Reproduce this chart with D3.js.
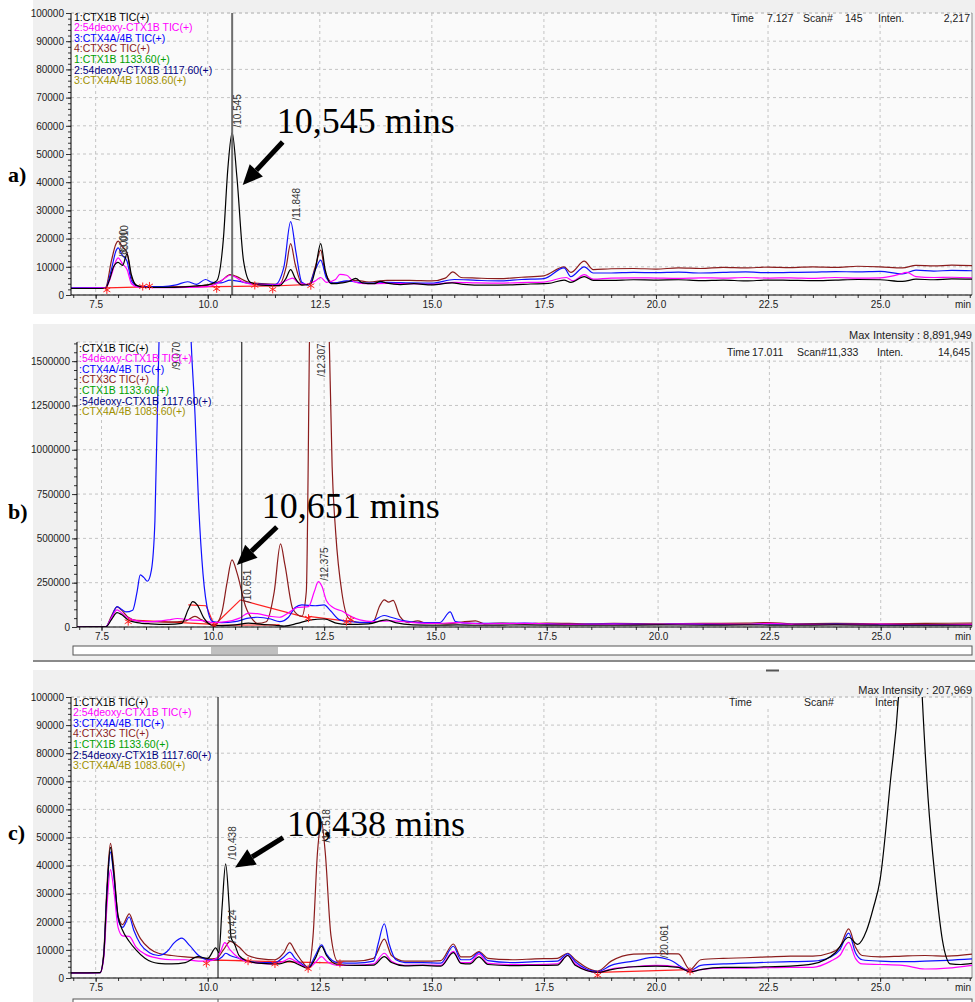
<!DOCTYPE html>
<html>
<head>
<meta charset="utf-8">
<script src="https://cdn.jsdelivr.net/npm/d3@7"></script>
<style>
  body { margin: 0; background: #fff; }
  svg { display: block; font-family: "Liberation Sans", Arial, sans-serif; }
</style>
</head>
<body>
<script>
// ---- data ----
const xTicks = [7.5, 10.0, 12.5, 15.0, 17.5, 20.0, 22.5, 25.0];
const acYTicks = [0, 10000, 20000, 30000, 40000, 50000, 60000, 70000, 80000, 90000, 100000];
const bYTicks = [0, 250000, 500000, 750000, 1000000, 1250000, 1500000];

const legendNames = ["1:CTX1B TIC(+)", "2:54deoxy-CTX1B TIC(+)", "3:CTX4A/4B TIC(+)", "4:CTX3C TIC(+)",
  "1:CTX1B 1133.60(+)", "2:54deoxy-CTX1B 1117.60(+)", "3:CTX4A/4B 1083.60(+)"];
const legendColors = ["#000000", "#ff00ff", "#0000ff", "#8b1c1c", "#00a000", "#000080", "#a09000"];

// panel a
const aBlack = [[6.95,2300],[7.5,2300],[7.72,2400],[7.8,5000],[7.9,10000],[8.0,11600],[8.1,10500],[8.2,14500],[8.3,7000],[8.4,3500],[8.6,2700],[9.0,2700],[9.5,2900],[9.8,3300],[10.0,3600],[10.2,5000],[10.35,20000],[10.45,45000],[10.545,57600],[10.65,42000],[10.8,12000],[10.95,4500],[11.2,3500],[11.6,3300],[11.75,6000],[11.85,9000],[11.95,6000],[12.1,3500],[12.3,4000],[12.4,9000],[12.52,18200],[12.62,9000],[12.75,4000],[13.0,4300],[13.15,4800],[13.3,5900],[13.45,4300],[13.7,4000],[13.85,4800],[14.0,4200],[14.3,3700],[14.6,4000],[15.0,3600],[15.45,4300],[15.7,3800],[16.2,3500],[16.8,3600],[17.2,3900],[17.6,4100],[17.95,5300],[18.1,4500],[18.4,6500],[18.6,5200],[19.0,5200],[19.5,5400],[20.0,5300],[20.5,5400],[21.0,5100],[21.5,5300],[22.0,5000],[22.5,5300],[23.0,5200],[23.5,5100],[24.0,5300],[24.5,5500],[25.0,5400],[25.5,4800],[25.8,5600],[26.2,5400],[26.6,5700],[27.05,5600]];
const aMagenta = [[6.95,2400],[7.72,2500],[7.85,7000],[7.95,12000],[8.0,13200],[8.1,11000],[8.2,9000],[8.3,4000],[8.45,2800],[9.0,2600],[9.5,2700],[10.0,3000],[10.2,4000],[10.4,6200],[10.5,7000],[10.6,6500],[10.8,4500],[11.0,3800],[11.5,3500],[11.8,5500],[11.9,6000],[12.0,4500],[12.2,3800],[12.4,5000],[12.52,6200],[12.65,4500],[12.85,5500],[12.95,7300],[13.1,7000],[13.25,4800],[13.5,4000],[14.0,4100],[14.5,4000],[15.0,3800],[15.5,4500],[16.0,4300],[16.5,4200],[17.0,4400],[17.5,4600],[18.0,6200],[18.15,5000],[18.4,7200],[18.6,5600],[19.0,6000],[19.5,6100],[20.0,6000],[20.5,5900],[21.0,6100],[21.5,6000],[22.0,6200],[22.5,6000],[23.0,6100],[23.5,5900],[24.0,6200],[24.5,6000],[25.0,6100],[25.4,7200],[25.6,8000],[25.8,6500],[26.2,6200],[26.6,6300],[27.05,6100]];
const aBlue = [[6.95,2500],[7.72,2600],[7.85,9000],[7.95,15500],[8.0,16700],[8.1,14000],[8.2,12000],[8.3,5000],[8.45,3000],[9.0,3000],[9.3,3600],[9.55,4700],[9.75,3800],[9.95,5500],[10.1,4500],[10.3,4300],[10.5,5300],[10.7,4800],[11.0,4000],[11.5,3700],[11.7,10000],[11.85,26000],[11.97,15000],[12.1,4500],[12.25,3500],[12.4,9000],[12.52,12400],[12.65,6000],[12.8,4200],[13.1,5000],[13.3,4600],[13.6,4200],[14.0,4500],[14.5,4300],[15.0,4200],[15.5,5500],[16.0,5200],[16.5,5000],[17.0,5500],[17.5,5800],[17.95,9600],[18.1,6500],[18.4,10000],[18.6,7800],[19.0,7800],[19.5,8000],[20.0,7900],[20.5,8100],[21.0,7800],[21.5,8000],[22.0,8200],[22.5,7900],[23.0,8000],[23.5,8100],[24.0,8300],[24.5,8200],[25.0,8400],[25.5,7500],[25.8,8800],[26.2,8500],[26.6,8700],[27.05,8600]];
const aBrown = [[6.95,2400],[7.72,2600],[7.85,12000],[7.95,18000],[8.0,19100],[8.1,17000],[8.2,15000],[8.3,6000],[8.45,3200],[9.0,2900],[9.5,3000],[10.0,3500],[10.3,5000],[10.5,7200],[10.65,6500],[10.9,4600],[11.2,4000],[11.6,3800],[11.75,10000],[11.85,18200],[11.95,11000],[12.1,4000],[12.25,3600],[12.4,10000],[12.52,15900],[12.62,8000],[12.8,4300],[13.0,4600],[13.3,5200],[13.6,4600],[14.0,5200],[14.5,5200],[15.0,5000],[15.3,6000],[15.47,8200],[15.65,6200],[16.0,6000],[16.5,5800],[17.0,6300],[17.5,6800],[17.95,10000],[18.1,8000],[18.4,12000],[18.6,9000],[19.0,9300],[19.5,9400],[20.0,9200],[20.5,9600],[21.0,9400],[21.5,9800],[22.0,9600],[22.5,9900],[23.0,9700],[23.5,10000],[24.0,9800],[24.5,10200],[25.0,10000],[25.5,9600],[25.8,10500],[26.2,10300],[26.6,10600],[27.05,10400]];
const aRed = [[6.95,2400,7.75,2400],[7.75,2500,8.6,2900],[8.6,2900,10.2,3000],[10.2,3000,11.45,3200],[11.45,3200,12.3,3800]];
const aStars = [[7.75,1800],[8.55,3000],[8.7,3200],[10.2,2200],[11.05,3400],[11.45,2000],[12.3,3300]];
const aPeaks = [[8.0,12600,"8.000"],[8.01,14200,"8.010"],[10.545,58700,"10.545"],[11.848,25700,"11.848"]];

// panel b
const bBlue = [[6.95,0],[7.6,2000],[7.7,40000],[7.85,115000],[7.95,100000],[8.05,85000],[8.2,95000],[8.3,200000],[8.37,294000],[8.45,280000],[8.53,258000],[8.62,320000],[8.7,600000],[8.8,1700000],[9.1,8891949],[9.5,1700000],[9.6,1200000],[9.68,700000],[9.78,300000],[9.9,80000],[10.0,30000],[10.2,25000],[10.5,30000],[10.8,50000],[11.0,55000],[11.3,45000],[11.5,30000],[11.7,55000],[11.85,110000],[12.0,125000],[12.3,120000],[12.5,125000],[12.65,90000],[12.85,40000],[13.1,30000],[13.5,25000],[13.85,65000],[14.0,55000],[14.3,35000],[14.7,25000],[15.1,25000],[15.33,85000],[15.45,30000],[15.8,20000],[16.5,20000],[17.0,22000],[17.5,18000],[18.0,15000],[19.0,18000],[20.0,15000],[20.5,17000],[21.0,15000],[22.0,14000],[22.5,18000],[23.0,15000],[24.0,16000],[25.0,13000],[26.0,12000],[27.05,13000]];
const bBlack = [[6.95,0],[7.6,1000],[7.72,40000],[7.85,81000],[7.95,70000],[8.1,40000],[8.3,25000],[8.6,18000],[9.0,15000],[9.3,20000],[9.45,100000],[9.55,143000],[9.65,125000],[9.8,50000],[10.0,10000],[10.2,8000],[10.5,12000],[10.8,22000],[11.1,15000],[11.4,10000],[11.6,5000],[11.9,20000],[12.2,40000],[12.5,45000],[12.8,20000],[13.0,15000],[13.5,18000],[13.9,40000],[14.1,25000],[14.5,12000],[15.0,10000],[15.5,12000],[16.0,10000],[17.0,12000],[18.0,10000],[19.0,10000],[20.0,12000],[21.0,10000],[22.0,12000],[23.0,10000],[24.0,12000],[25.0,10000],[26.0,11000],[27.05,10000]];
const bMagenta = [[6.95,0],[7.6,2000],[7.72,50000],[7.85,97000],[7.95,80000],[8.1,50000],[8.3,35000],[8.6,30000],[9.0,40000],[9.2,48000],[9.5,40000],[9.8,35000],[10.0,25000],[10.3,30000],[10.6,50000],[10.8,78000],[11.0,75000],[11.3,60000],[11.5,55000],[11.7,80000],[11.9,110000],[12.15,115000],[12.28,200000],[12.37,256000],[12.45,230000],[12.55,150000],[12.7,110000],[12.9,90000],[13.1,60000],[13.3,40000],[13.6,30000],[14.0,35000],[14.5,25000],[15.0,20000],[15.5,25000],[16.0,18000],[17.0,20000],[18.0,15000],[19.0,16000],[20.0,15000],[21.0,17000],[22.0,15000],[22.5,20000],[23.0,15000],[24.0,14000],[25.0,16000],[26.0,14000],[27.05,15000]];
const bBrown = [[6.95,0],[7.6,2000],[7.72,60000],[7.85,113000],[7.95,95000],[8.1,55000],[8.3,35000],[8.6,30000],[9.0,28000],[9.4,35000],[9.6,60000],[9.75,40000],[10.03,8000],[10.2,80000],[10.32,250000],[10.43,379000],[10.55,300000],[10.73,120000],[10.9,40000],[11.0,20000],[11.2,30000],[11.38,200000],[11.52,469000],[11.62,350000],[11.8,100000],[12.0,60000],[12.1,200000],[12.18,1800000],[12.307,3200000],[12.6,1800000],[12.68,906000],[12.76,531000],[12.9,192000],[13.05,50000],[13.3,25000],[13.6,30000],[13.75,120000],[13.85,153000],[13.95,140000],[14.05,150000],[14.2,60000],[14.4,25000],[14.6,35000],[14.8,20000],[15.2,18000],[15.9,35000],[16.1,18000],[16.5,22000],[17.0,18000],[17.5,22000],[18.0,20000],[18.5,18000],[19.0,20000],[20.0,18000],[21.0,20000],[22.0,22000],[22.5,25000],[23.0,18000],[24.0,20000],[25.0,18000],[26.0,20000],[27.05,22000]];
const bRed = [[8.1,40000,10.03,15000],[9.45,125000,9.85,120000],[9.85,120000,10.03,10000],[10.03,10000,10.62,153000],[10.62,153000,12.15,50000],[12.15,60000,13.1,30000],[10.03,10000,11.5,12000]];
const bStars = [[8.1,30000],[10.03,5000],[12.15,50000],[13.0,30000],[13.1,40000]];
const bPeaks = [[9.07,1440000,"9.070"],[12.307,1400000,"12.307"],[10.651,124000,"10.651"],[12.375,249000,"12.375"]];

// panel c
const cBlack = [[6.95,1800],[7.6,1900],[7.68,8000],[7.75,30000],[7.83,46500],[7.9,38000],[8.0,22000],[8.1,17000],[8.25,13000],[8.4,10000],[8.6,7000],[8.9,5200],[9.2,5000],[9.5,5500],[9.78,7600],[10.0,7000],[10.18,10700],[10.25,9000],[10.32,25000],[10.4,40600],[10.48,25000],[10.52,14500],[10.6,12000],[10.7,8000],[10.9,6000],[11.2,5200],[11.6,5000],[11.83,6000],[12.0,5000],[12.24,3500],[12.4,7000],[12.54,11300],[12.65,8000],[12.9,4800],[13.3,4500],[13.7,4600],[13.94,7600],[14.1,5500],[14.4,4300],[14.8,4500],[15.2,4200],[15.48,9000],[15.65,5200],[15.85,5000],[16.05,7500],[16.25,4800],[16.8,4400],[17.3,4500],[17.8,4600],[18.03,8000],[18.2,4500],[18.7,2000],[19.0,3000],[19.5,4000],[20.0,4200],[20.5,3800],[20.76,2200],[21.0,3000],[21.5,3800],[22.0,3800],[22.5,4000],[23.0,4200],[23.5,5000],[24.0,9000],[24.3,14500],[24.5,12000],[24.7,17000],[24.85,25000],[25.0,35000],[25.23,70000],[25.41,100000],[25.68,207969],[25.94,100000],[26.07,64000],[26.23,35000],[26.39,13500],[26.57,5000],[26.8,4800],[27.05,5200]];
const cBrown = [[6.95,1800],[7.6,1900],[7.68,9000],[7.75,32000],[7.83,47900],[7.9,40000],[8.0,22000],[8.1,19000],[8.25,22800],[8.35,19000],[8.5,14000],[8.7,10500],[8.9,8800],[9.2,8000],[9.5,7500],[9.8,7200],[10.0,6800],[10.2,7000],[10.35,10000],[10.5,13000],[10.7,11000],[10.9,8000],[11.2,6800],[11.5,6500],[11.7,9000],[11.83,12500],[11.95,9500],[12.1,6000],[12.24,3800],[12.35,15000],[12.45,45000],[12.54,55500],[12.62,45000],[12.75,15000],[12.9,6000],[13.3,6000],[13.7,7000],[13.94,13800],[14.1,8000],[14.4,6000],[14.8,6000],[15.2,6200],[15.48,12100],[15.65,7500],[15.85,7500],[16.05,9400],[16.25,7000],[16.8,6500],[17.3,6800],[17.8,7000],[18.03,8800],[18.2,6500],[18.7,2500],[19.0,6000],[19.5,8500],[20.0,8700],[20.5,8600],[20.76,3000],[21.0,6500],[21.5,7000],[22.0,7200],[22.5,7500],[23.0,7800],[23.5,7800],[23.9,9000],[24.1,11000],[24.3,17500],[24.45,11000],[24.6,8000],[25.0,7500],[25.5,7800],[26.0,8000],[26.5,7800],[27.05,8500]];
const cBlue = [[6.95,1800],[7.6,1900],[7.68,8000],[7.75,30000],[7.83,44900],[7.9,37000],[8.0,21000],[8.1,18000],[8.25,21700],[8.35,17000],[8.5,12000],[8.7,9000],[8.9,8000],[9.1,9500],[9.25,12500],[9.42,14200],[9.6,11500],[9.8,8000],[10.0,6500],[10.2,6500],[10.32,7500],[10.4,8800],[10.5,8000],[10.7,7000],[10.9,6000],[11.2,5500],[11.5,5500],[11.7,7500],[11.83,9200],[11.95,7000],[12.1,5000],[12.24,3600],[12.4,8000],[12.54,11800],[12.65,8500],[12.9,5500],[13.3,5300],[13.7,6000],[13.8,12000],[13.94,19300],[14.05,12000],[14.2,6500],[14.4,5500],[14.8,5500],[15.2,5300],[15.48,11300],[15.65,6500],[15.85,6500],[16.05,9000],[16.25,6200],[16.8,5500],[17.3,5800],[17.8,6000],[18.03,8600],[18.2,5800],[18.7,2300],[19.0,4500],[19.5,6000],[20.0,7400],[20.3,6500],[20.76,2600],[21.0,4500],[21.5,5000],[22.0,5300],[22.5,5600],[23.0,5800],[23.5,6000],[23.9,7500],[24.1,10000],[24.3,16000],[24.45,9000],[24.6,6500],[25.0,6000],[25.5,5800],[26.0,6000],[26.5,6300],[27.05,6800]];
const cMagenta = [[6.95,1800],[7.6,1900],[7.68,7000],[7.75,25000],[7.83,38600],[7.9,32000],[8.0,18000],[8.1,15000],[8.25,14800],[8.4,11000],[8.6,8500],[8.9,7000],[9.2,6500],[9.5,6500],[9.8,6000],[10.0,6000],[10.2,7000],[10.3,10000],[10.38,12600],[10.5,10000],[10.7,7000],[10.9,5800],[11.2,5200],[11.5,5000],[11.7,6000],[11.83,7000],[11.95,6000],[12.1,4500],[12.24,3500],[12.4,5500],[12.54,7600],[12.65,6000],[12.9,4500],[13.3,4500],[13.7,5000],[13.94,8800],[14.1,6000],[14.4,4500],[14.8,4600],[15.2,4500],[15.48,9500],[15.65,5500],[15.85,5500],[16.05,8500],[16.25,5200],[16.8,4800],[17.3,4800],[17.8,5000],[18.03,8000],[18.2,5000],[18.7,2000],[19.0,3200],[19.5,4000],[20.0,4500],[20.5,4000],[20.76,2200],[21.0,3000],[21.5,3500],[22.0,3500],[22.5,3700],[23.0,3800],[23.5,3800],[23.9,6000],[24.1,8000],[24.3,12700],[24.45,7000],[24.6,5000],[25.0,4800],[25.5,4500],[26.0,3200],[26.5,3500],[27.05,4500]];
const cRed = [[9.97,6400,12.99,5300],[9.97,6400,10.9,6200],[18.7,2000,20.76,3000]];
const cStars = [[9.97,5200],[10.9,6000],[11.5,5000],[12.24,3300],[12.95,5200],[18.7,1000],[20.76,2400]];
const cPeaks = [[10.438,41400,"10.438"],[10.424,11800,"10.424"],[12.518,47500,"12.518"],[20.061,6400,"20.061"]];

// ---- drawing ----
const W = 975, H = 1002;
const xDomain = [6.95, 27.05];
const traceColors = { black: "#000000", magenta: "#ff00ff", blue: "#1010ff", brown: "#8b1c1c" };

const svg = d3.select("body").append("svg").attr("width", W).attr("height", H);

const panels = [
  { id: "a", tag: "a)", tagY: 182, bg: [33, 0, 942, 314], left: 71, right: 972, top: 13, bottom: 295,
    yMax: 100000, yTicks: acYTicks, yMinor: 2000, legendX: 74, legendY: 17, names: legendNames,
    series: [["brown", aBrown], ["blue", aBlue], ["magenta", aMagenta], ["black", aBlack]],
    red: aRed, stars: aStars, peaks: aPeaks, cursor: 10.545, cursorColor: "#6e6e6e", cursorW: 2,
    header: [["Time", 731, "start"], ["7.127", 767, "start"], ["Scan#", 803, "start"], ["145", 845, "start"], ["Inten.", 878, "start"], ["2,217", 970, "end"]],
    headerY: 22, maxText: null,
    note: { text: "10,545 mins", tip: [10.78, 39000], tail: [40, -43], label: [34, -52] } },
  { id: "b", tag: "b)", tagY: 519, bg: [33, 324, 942, 336], left: 77, right: 972, top: 342, bottom: 627,
    yMax: 1608000, yTicks: bYTicks, yMinor: 50000, legendX: 79, legendY: 348, names: legendNames.map(s => s.slice(1)),
    series: [["brown", bBrown], ["blue", bBlue], ["magenta", bMagenta], ["black", bBlack]],
    red: bRed, stars: bStars, peaks: bPeaks, cursor: 10.651, cursorColor: "#000", cursorW: 1,
    header: [["Time", 727, "start"], ["17.011", 752, "start"], ["Scan#", 797, "start"], ["11,333", 827, "start"], ["Inten.", 877, "start"], ["14,645", 970, "end"]],
    headerY: 356, maxText: "Max Intensity : 8,891,949", maxY: 339,
    note: { text: "10,651 mins", tip: [10.54, 350000], tail: [40, -38], label: [25, -47] } },
  { id: "c", tag: "c)", tagY: 840, bg: [33, 670, 942, 332], left: 71, right: 972, top: 697, bottom: 978,
    yMax: 100000, yTicks: acYTicks, yMinor: 2000, legendX: 73, legendY: 702, names: legendNames,
    series: [["brown", cBrown], ["blue", cBlue], ["magenta", cMagenta], ["black", cBlack]],
    red: cRed, stars: cStars, peaks: cPeaks, cursor: 10.23, cursorColor: "#000", cursorW: 1,
    header: [["Time", 729, "start"], ["Scan#", 804, "start"], ["Inten", 875, "start"]],
    headerY: 706, maxText: "Max Intensity : 207,969", maxY: 694,
    note: { text: "10,438 mins", tip: [10.61, 39300], tail: [48, -30], label: [52, -32] } }
];

function drawPanel(p) {
  const g = svg.append("g").attr("class", "panel-" + p.id);
  g.append("rect").attr("x", p.bg[0]).attr("y", p.bg[1]).attr("width", p.bg[2]).attr("height", p.bg[3]).attr("fill", "#f0f0f0");

  const x = d3.scaleLinear().domain(xDomain).range([p.left, p.right]);
  const y = d3.scaleLinear().domain([0, p.yMax]).range([p.bottom, p.top]);

  g.append("rect").attr("x", p.left).attr("y", p.top).attr("width", p.right - p.left).attr("height", p.bottom - p.top)
    .attr("fill", "#fafafa");

  // dashed grid
  g.selectAll(".gx").data(xTicks).join("line")
    .attr("x1", d => x(d)).attr("x2", d => x(d)).attr("y1", p.top).attr("y2", p.bottom)
    .attr("stroke", "#c4c4c4").attr("stroke-dasharray", "3,3");
  g.selectAll(".gy").data(p.yTicks.concat([p.yMax])).join("line")
    .attr("x1", p.left).attr("x2", p.right).attr("y1", d => y(d)).attr("y2", d => y(d))
    .attr("stroke", "#c4c4c4").attr("stroke-dasharray", "3,3");
  g.append("line").attr("x1", p.right).attr("x2", p.right).attr("y1", p.top).attr("y2", p.bottom)
    .attr("stroke", "#8a8a8a");

  // header box + texts
  g.append("rect").attr("x", 700).attr("y", p.top + 1).attr("width", p.right - 701).attr("height", 11).attr("fill", "#fafafa");
  g.selectAll(".hd").data(p.header).join("text")
    .attr("x", d => d[1]).attr("y", p.headerY).attr("text-anchor", d => d[2])
    .attr("font-size", 10.5).attr("fill", "#222").text(d => d[0]);
  if (p.maxText) {
    g.append("text").attr("x", 972).attr("y", p.maxY).attr("text-anchor", "end")
      .attr("font-size", 11).attr("fill", "#222").text(p.maxText);
  }

  // traces
  const clipId = "clip-" + p.id;
  svg.append("clipPath").attr("id", clipId).append("rect")
    .attr("x", p.left).attr("y", p.top).attr("width", p.right - p.left).attr("height", p.bottom - p.top);
  const plot = g.append("g").attr("clip-path", `url(#${clipId})`);

  const line = d3.line().x(d => x(d[0])).y(d => y(d[1])).curve(d3.curveMonotoneX);

  plot.selectAll(".red").data(p.red).join("line")
    .attr("x1", d => x(d[0])).attr("y1", d => y(d[1])).attr("x2", d => x(d[2])).attr("y2", d => y(d[3]))
    .attr("stroke", "#ff2020").attr("stroke-width", 1.2);

  plot.selectAll(".trace").data(p.series).join("path")
    .attr("d", d => line(d[1]))
    .attr("fill", "none").attr("stroke", d => traceColors[d[0]]).attr("stroke-width", 1.2);

  const star = d3.symbol().type(d3.symbolAsterisk).size(45);
  plot.selectAll(".star").data(p.stars).join("path")
    .attr("transform", d => `translate(${x(d[0])},${y(d[1])})`)
    .attr("d", star).attr("fill", "none").attr("stroke", "#ff2020").attr("stroke-width", 1);

  plot.append("line").attr("x1", x(p.cursor)).attr("x2", x(p.cursor)).attr("y1", p.top).attr("y2", p.bottom)
    .attr("stroke", p.cursorColor).attr("stroke-width", p.cursorW);

  // peak labels
  g.selectAll(".pk").data(p.peaks).join("text")
    .attr("transform", d => `translate(${x(d[0]) + 9},${y(d[1]) - 2}) rotate(-90)`)
    .attr("font-size", 10).attr("fill", "#333").text(d => "/" + d[2]);

  // legend
  g.selectAll(".lg").data(p.names).join("text")
    .attr("x", p.legendX).attr("y", (d, i) => p.legendY + i * 10.6).attr("dy", "0.35em")
    .attr("font-size", 10.5).attr("fill", (d, i) => legendColors[i]).text(d => d);

  // axes
  g.append("g").attr("transform", `translate(${p.left},0)`)
    .call(d3.axisLeft(y).tickValues(p.yTicks).tickSize(5).tickPadding(2).tickFormat(d3.format("d")));
  g.append("g").attr("transform", `translate(${p.left},0)`)
    .call(d3.axisLeft(y).tickValues(d3.range(0, p.yMax, p.yMinor)).tickSize(3).tickFormat(""));
  g.append("g").attr("transform", `translate(0,${p.bottom})`)
    .call(d3.axisBottom(x).tickValues(xTicks).tickSize(4).tickPadding(2).tickFormat(d3.format(".1f")));
  g.append("g").attr("transform", `translate(0,${p.bottom})`)
    .call(d3.axisBottom(x).tickValues(d3.range(7.0, 27.01, 0.5)).tickSize(3).tickFormat(""));
  g.selectAll(".domain").remove();
  g.selectAll(".tick text").attr("font-size", 10).attr("fill", "#222")
    .attr("font-family", "'Liberation Sans', Arial, sans-serif");
  g.selectAll(".tick line").attr("stroke", "#333");
  g.append("text").attr("x", 971).attr("y", p.bottom + 6).attr("dy", "0.71em").attr("text-anchor", "end")
    .attr("font-size", 10).attr("fill", "#222").text("min");
  g.append("line").attr("x1", p.left).attr("x2", p.left).attr("y1", p.top).attr("y2", p.bottom).attr("stroke", "#000");
  g.append("line").attr("x1", p.left).attr("x2", p.right).attr("y1", p.bottom).attr("y2", p.bottom).attr("stroke", "#000");

  // panel tag
  svg.append("text").attr("x", 8).attr("y", p.tagY).attr("font-family", "'Liberation Serif', 'Times New Roman', serif")
    .attr("font-weight", "bold").attr("font-size", 22).text(p.tag);

  // annotation: arrow + big text
  const tip = [x(p.note.tip[0]), y(p.note.tip[1])];
  const tail = [tip[0] + p.note.tail[0], tip[1] + p.note.tail[1]];
  const ang = Math.atan2(tip[1] - tail[1], tip[0] - tail[0]);
  const headL = 20, headW = 9;
  const base = [tip[0] - headL * Math.cos(ang), tip[1] - headL * Math.sin(ang)];
  const nx = -Math.sin(ang), ny = Math.cos(ang);
  svg.append("line").attr("x1", tail[0]).attr("y1", tail[1]).attr("x2", base[0]).attr("y2", base[1])
    .attr("stroke", "#000").attr("stroke-width", 5);
  svg.append("path")
    .attr("d", `M${tip[0]},${tip[1]}L${base[0] + nx * headW},${base[1] + ny * headW}L${base[0] - nx * headW},${base[1] - ny * headW}Z`)
    .attr("fill", "#000");
  svg.append("text").attr("x", tip[0] + p.note.label[0]).attr("y", tip[1] + p.note.label[1])
    .attr("font-family", "'Liberation Serif', 'Times New Roman', serif").attr("font-size", 36).attr("fill", "#000")
    .text(p.note.text);
}

panels.forEach(drawPanel);

// scrollbars and separator (window chrome)
svg.append("rect").attr("x", 73).attr("y", 646).attr("width", 899).attr("height", 9)
  .attr("fill", "#fff").attr("stroke", "#555");
svg.append("rect").attr("x", 211).attr("y", 647).attr("width", 67).attr("height", 7).attr("fill", "#c0c0c0");
svg.append("line").attr("x1", 33).attr("x2", 975).attr("y1", 661).attr("y2", 661).attr("stroke", "#8a8a8a").attr("stroke-width", 2);
svg.append("line").attr("x1", 766).attr("x2", 779).attr("y1", 670.5).attr("y2", 670.5).attr("stroke", "#555").attr("stroke-width", 2);
svg.append("rect").attr("x", 73).attr("y", 999).attr("width", 899).attr("height", 8)
  .attr("fill", "#fff").attr("stroke", "#555");
svg.append("line").attr("x1", 218).attr("x2", 218).attr("y1", 999).attr("y2", 1002).attr("stroke", "#555");
</script>
</body>
</html>
